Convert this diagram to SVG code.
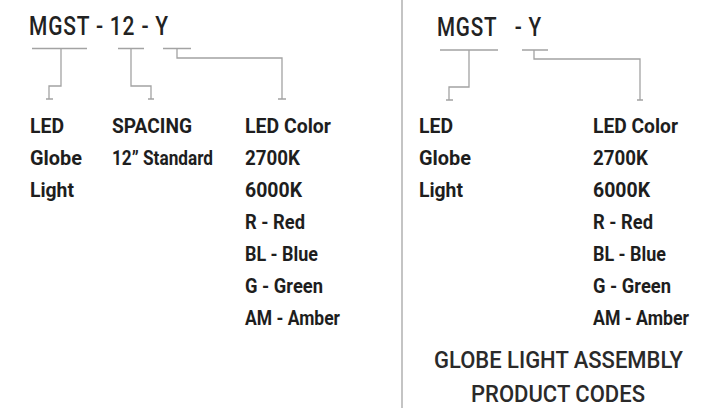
<svg xmlns="http://www.w3.org/2000/svg" width="712" height="408" viewBox="0 0 712 408">
<style>
.t{font-family:Roboto,"Liberation Sans",sans-serif;font-size:25px;font-weight:500;fill:#222;letter-spacing:1px}
.l{font-family:Roboto,"Liberation Sans",sans-serif;font-size:21px;font-weight:700;fill:#1e1e1e}
.f{font-family:Roboto,"Liberation Sans",sans-serif;font-size:24px;font-weight:500;fill:#2a2a2a;text-anchor:middle}
.c{fill:none;stroke:#a3a3a3;stroke-width:1.3}
</style>
<rect width="712" height="408" fill="#fff"/>
<line x1="402" y1="0" x2="402" y2="408" stroke="#c4c4c4" stroke-width="2"/>
<g id="title-left"><text class="t" x="29" y="35" textLength="140" lengthAdjust="spacingAndGlyphs">MGST - 12 - Y</text></g>
<g id="title-right"><text class="t" x="437" y="36" textLength="105" lengthAdjust="spacingAndGlyphs" xml:space="preserve">MGST   - Y</text></g>
<g id="connectors">
<path class="c" d="M32 48.5H87M118 48.5H144M163 48.5H191"/>
<path class="c" d="M61 48.5V86H49V99M46 99H53"/>
<path class="c" d="M131 48.5V86H151V99M148 99H154"/>
<path class="c" d="M177 48.5V58H282V99M278 99H286"/>
<path class="c" d="M440 50H498M522 50H548"/>
<path class="c" d="M469 50V87H449V100M446 100H453"/>
<path class="c" d="M534 50V59H640V100M637 100H643"/>
</g>
<g id="led-left"><text class="l" x="30" y="133" textLength="34" lengthAdjust="spacingAndGlyphs">LED</text><text class="l" x="30" y="165" textLength="52" lengthAdjust="spacingAndGlyphs">Globe</text><text class="l" x="30" y="197" textLength="44" lengthAdjust="spacingAndGlyphs">Light</text></g>
<g id="spacing-left"><text class="l" x="112" y="133" textLength="80" lengthAdjust="spacingAndGlyphs">SPACING</text><text class="l" x="112" y="165" textLength="101" lengthAdjust="spacingAndGlyphs">12” Standard</text></g>
<g id="color-left"><text class="l" x="245" y="133" textLength="86" lengthAdjust="spacingAndGlyphs">LED Color</text><text class="l" x="245" y="165" textLength="55" lengthAdjust="spacingAndGlyphs">2700K</text><text class="l" x="245" y="197" textLength="57" lengthAdjust="spacingAndGlyphs">6000K</text><text class="l" x="245" y="229" textLength="60" lengthAdjust="spacingAndGlyphs">R - Red</text><text class="l" x="245" y="261" textLength="73" lengthAdjust="spacingAndGlyphs">BL - Blue</text><text class="l" x="245" y="293" textLength="78" lengthAdjust="spacingAndGlyphs">G - Green</text><text class="l" x="245" y="325" textLength="95" lengthAdjust="spacingAndGlyphs">AM - Amber</text></g>
<g id="led-right"><text class="l" x="419" y="133" textLength="34" lengthAdjust="spacingAndGlyphs">LED</text><text class="l" x="419" y="165" textLength="52" lengthAdjust="spacingAndGlyphs">Globe</text><text class="l" x="419" y="197" textLength="44" lengthAdjust="spacingAndGlyphs">Light</text></g>
<g id="color-right"><text class="l" x="593" y="133" textLength="85" lengthAdjust="spacingAndGlyphs">LED Color</text><text class="l" x="593" y="165" textLength="55" lengthAdjust="spacingAndGlyphs">2700K</text><text class="l" x="593" y="197" textLength="57" lengthAdjust="spacingAndGlyphs">6000K</text><text class="l" x="593" y="229" textLength="60" lengthAdjust="spacingAndGlyphs">R - Red</text><text class="l" x="593" y="261" textLength="73" lengthAdjust="spacingAndGlyphs">BL - Blue</text><text class="l" x="593" y="293" textLength="78" lengthAdjust="spacingAndGlyphs">G - Green</text><text class="l" x="593" y="325" textLength="96" lengthAdjust="spacingAndGlyphs">AM - Amber</text></g>
<g id="footer"><text class="f" x="558.5" y="368" textLength="249" lengthAdjust="spacingAndGlyphs">GLOBE LIGHT ASSEMBLY</text><text class="f" x="558" y="402" textLength="174" lengthAdjust="spacingAndGlyphs">PRODUCT CODES</text></g>
</svg>
